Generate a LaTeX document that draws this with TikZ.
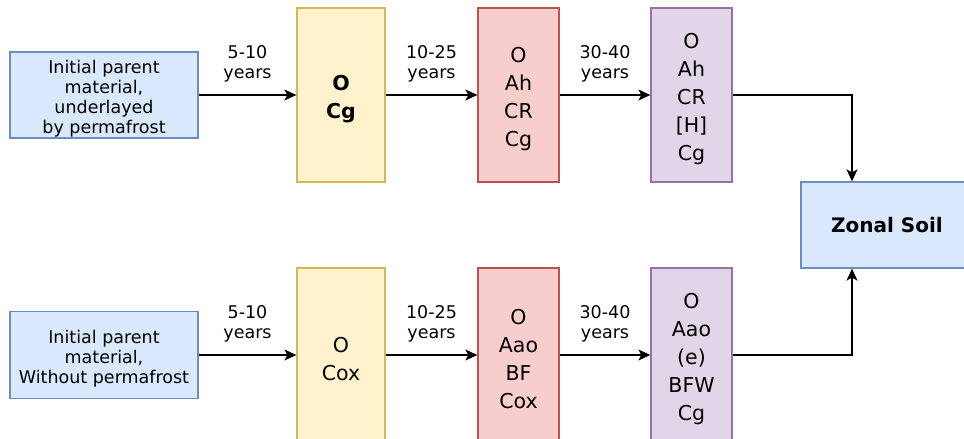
\documentclass[tikz,border=0pt]{standalone}
\usepackage{fontspec}
\setmainfont{DejaVu Sans}
\usepackage{xcolor}
\usepackage{tikz}
\usetikzlibrary{arrows.meta}

\definecolor{bluefill}{HTML}{DAE8FC}
\definecolor{bluedraw}{HTML}{6C8EBF}
\definecolor{yelfill}{HTML}{FFF2CC}
\definecolor{yeldraw}{HTML}{D6B656}
\definecolor{redfill}{HTML}{F8CECC}
\definecolor{reddraw}{HTML}{B85450}
\definecolor{purfill}{HTML}{E1D5E7}
\definecolor{purdraw}{HTML}{9673A6}

% extra room above the first line of a box text
\newcommand{\padsmall}{\rule{0pt}{20pt}}
\newcommand{\padbig}{\rule{0pt}{23pt}}

\begin{document}
\begin{tikzpicture}[x=1pt, y=-1pt,
                    line width=1.3pt,
                    hbox/.style n args={4}{rectangle, draw=#1draw, fill=#1fill,
                    minimum width=#2pt, minimum height=#3pt,
                    inner sep=0pt, align=center, font=#4},
                    arr/.style={-{Stealth[length=12pt,width=11pt,inset=3pt]}, black},
                    lbl/.style={align=center, inner sep=0pt, yshift=31pt,
                    font=\fontsize{17.5}{20}\selectfont}]
    \useasboundingbox (0,0) rectangle (964,439);
    % upper sequence
    \node[hbox={blue}{188}{86}{\fontsize{17.5}{20}\selectfont}](init1) at (104,95)
        {\padsmall Initial parent\\material,\\underlayed\\by permafrost};
    \node[hbox={yel}{88}{174}{\bfseries\fontsize{20.5}{28}\selectfont}](yel1) at (341,95) {\padbig O\\Cg};
    \node[hbox={red}{81}{174}{\fontsize{20.5}{28}\selectfont}](red1) at (518.5,95) {\padbig O\\Ah\\CR\\Cg};
    \node[hbox={pur}{81}{174}{\fontsize{20.5}{28}\selectfont}](pur1) at (691.5,95) {\padbig O\\Ah\\CR\\{}[H]\\Cg};
    % lower sequence
    \node[hbox={blue}{188}{87}{\fontsize{17.5}{20}\selectfont}](init2) at (104,355)
        {\padsmall Initial parent\\material,\\Without permafrost};
    \node[hbox={yel}{88}{174}{\fontsize{20.5}{28}\selectfont}](yel2) at (341,355) {\padbig O\\Cox};
    \node[hbox={red}{81}{174}{\fontsize{20.5}{28}\selectfont}](red2) at (518.5,355) {\padbig O\\Aao\\BF\\Cox};
    \node[hbox={pur}{81}{174}{\fontsize{20.5}{28}\selectfont}](pur2) at (691.5,355) {\padbig O\\Aao\\(e)\\BFW\\Cg};
    % end state
    \node[hbox={blue}{172}{86}{\bfseries\fontsize{20}{24}\selectfont}](zonal) at (887,225) {Zonal Soil};
    \coordinate (join) at (852,225);

    \draw[arr] (init1) -- node[lbl](l11){5-10\\years} (yel1);
    \draw[arr] (yel1) -- node[lbl](l12){10-25\\years} (red1);
    \draw[arr] (red1) -- node[lbl](l13){30-40\\years} (pur1);
    \draw[arr] (pur1.east) -| (join |- zonal.north);

    \draw[arr] (init2) -- node[lbl](l21){5-10\\years} (yel2);
    \draw[arr] (yel2) -- node[lbl](l22){10-25\\years} (red2);
    \draw[arr] (red2) -- node[lbl](l23){30-40\\years} (pur2);
    \draw[arr] (pur2.east) -| (join |- zonal.south);
\end{tikzpicture}
\end{document}
